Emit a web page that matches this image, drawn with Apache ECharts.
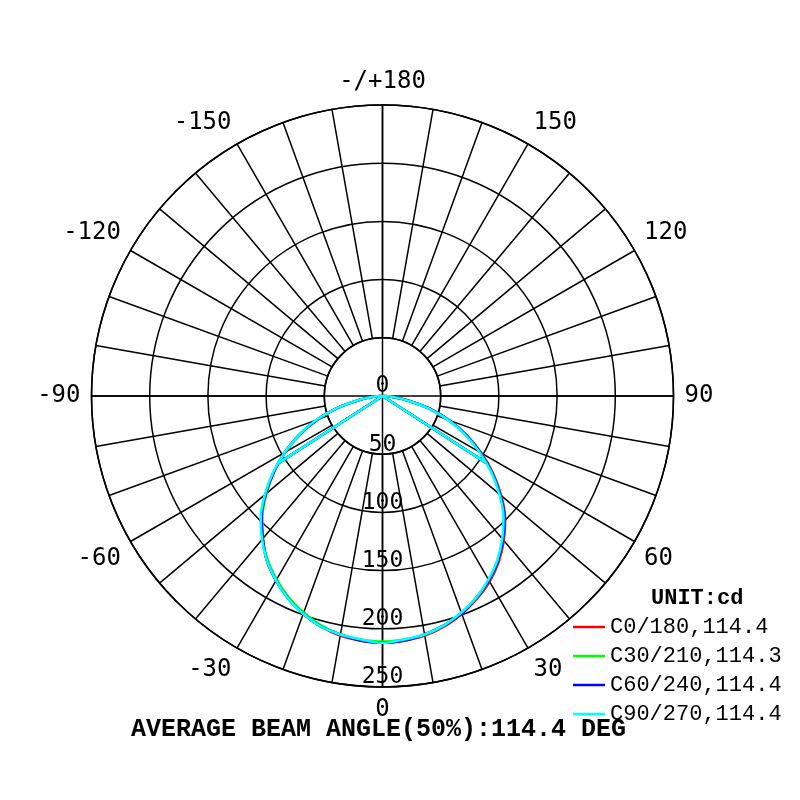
<!DOCTYPE html>
<html>
<head>
<meta charset="utf-8">
<script src="https://cdn.jsdelivr.net/npm/echarts@6/dist/echarts.min.js"></script>
<style>
html,body{margin:0;padding:0;background:#fff;}
#chart{width:800px;height:800px;}
</style>
</head>
<body>
<div id="chart"></div>
<script>
// ---- data ----
const gammas = [0,5,10,15,20,25,30,35,40,45,50,55,60,65,70,75,80,85,90];
const c0   = [212,211,209,205,199,192,184,174,162,149,133,116,98,80,61,42,23,9,0];
const c180 = [212,211,209,205,199,191,183,173,160,147,131,114,97,79,60,41,21,8,0];
const c30  = [211,210,208,204,198,191,183,173,161,148,132,115,97,79,60,41,22,8,0];
const c210 = [211,210,208,204,198,191,182,172,160,146,130,114,96,78,59,40,21,8,0];
const c60  = [212,211,208,204,199,191,183,173,161,148,132,115,97,79,61,42,22,9,0];
const c240 = [212,211,208,205,199,192,183,173,160,147,131,114,97,79,60,41,21,8,0];
const c90  = [212,210,208,204,198,191,182,172,160,147,131,114,96,78,60,41,21,8,0];
const c270 = [212,210,208,205,199,192,183,173,161,148,132,115,97,79,61,41,22,8,0];
const planeNames = ['C0/180,114.4','C30/210,114.3','C60/240,114.4','C90/270,114.4'];
const beamAngles = [114.4, 114.3, 114.4, 114.4];
const radiusTicks = [0,50,100,150,200,250];
const angleLabelStep = 30;
const titleText = 'AVERAGE BEAM ANGLE(50%):114.4 DEG';
const unitText = 'UNIT:cd';

// ---- build ----
const halves = [[c0,c180],[c30,c210],[c60,c240],[c90,c270]];
const colors = ['#ff0000','#00ff00','#0000ff','#00ffff'];

function curve(right, left){
  const d = [];
  for (let i = gammas.length-1; i >= 0; i--) d.push([left[i], -gammas[i]]);
  for (let i = 1; i < gammas.length; i++) d.push([right[i], gammas[i]]);
  return d;
}
function beamLine(right, left, angle){
  const half = angle/2;
  const v = Math.max(...right, ...left)/2;
  return [[v, -half],[0, 0],[v, half]];
}

const C = [382.5, 396];
const R = 291;
const axisFont = {fontFamily:'DejaVu Sans Mono', fontSize:24, color:'#000'};
const radFont = {fontFamily:'DejaVu Sans Mono', fontSize:23, color:'#000'};
const gridLine = {color:'#000', width:1.5};

const series = [];
halves.forEach((h,i)=>{
  series.push({
    name: planeNames[i], type:'line', coordinateSystem:'polar', polarIndex:2,
    data: curve(h[0],h[1]), symbol:'none', smooth:0.35,
    lineStyle:{color:colors[i], width:2.6}, itemStyle:{color:colors[i]}, z:3+i
  });
  series.push({
    name: planeNames[i], type:'line', coordinateSystem:'polar', polarIndex:2,
    data: beamLine(h[0],h[1],beamAngles[i]), symbol:'none',
    lineStyle:{color:colors[i], width:2.6}, itemStyle:{color:colors[i]}, z:3+i
  });
});

const option = {
  backgroundColor:'#fff',
  animation:false,
  title:[
    {text:titleText, left:126, top:712,
     textStyle:{fontFamily:'Liberation Mono', fontWeight:'bold', fontSize:25, color:'#000'}},
    {text:unitText, left:646, top:582,
     textStyle:{fontFamily:'Liberation Mono', fontWeight:'bold', fontSize:22, color:'#000'}}
  ],
  legend:{
    data: planeNames, orient:'vertical', left:568, top:611,
    icon:'rect', itemWidth:32, itemHeight:2.5, itemGap:7,
    textStyle:{fontFamily:'Liberation Mono', fontSize:22, lineHeight:22, color:'#000'}
  },
  polar:[
    {center:C, radius:[R/5, R]},
    {center:C, radius:R},
    {center:C, radius:R}
  ],
  angleAxis:[
    {polarIndex:0, type:'value', min:-180, max:180, interval:10, startAngle:90, clockwise:false,
     axisLine:{show:true, lineStyle:gridLine}, axisTick:{show:false},
     splitLine:{show:true, lineStyle:gridLine},
     axisLabel:{show:true, margin:11, ...axisFont,
       formatter:v=>{ if (v===180||v===-180) return '-/+180'; return (v % angleLabelStep === 0) ? String(v) : ''; }}},
    {polarIndex:1, type:'value', min:0, max:360, interval:90, startAngle:270, clockwise:false,
     axisLine:{show:false}, axisTick:{show:false}, axisLabel:{show:false},
     splitLine:{show:true, lineStyle:gridLine}},
    {polarIndex:2, type:'value', min:-180, max:180, startAngle:90, clockwise:false,
     axisLine:{show:false}, axisTick:{show:false}, axisLabel:{show:false}, splitLine:{show:false}}
  ],
  radiusAxis:[
    {polarIndex:0, type:'value', min:0, max:250, show:false},
    {polarIndex:1, type:'value', min:radiusTicks[0], max:radiusTicks[radiusTicks.length-1], interval:50,
     axisLine:{show:false}, axisTick:{show:false},
     splitLine:{show:true, lineStyle:gridLine},
     axisLabel:{show:true, margin:0, rotate:0, align:'center', verticalAlign:'bottom', padding:[0,0,-2,0], ...radFont}},
    {polarIndex:2, type:'value', min:0, max:250, show:false}
  ],
  series: series
};

const chart = echarts.init(document.getElementById('chart'), null, {renderer:'canvas'});
chart.setOption(option);
</script>
</body>
</html>
